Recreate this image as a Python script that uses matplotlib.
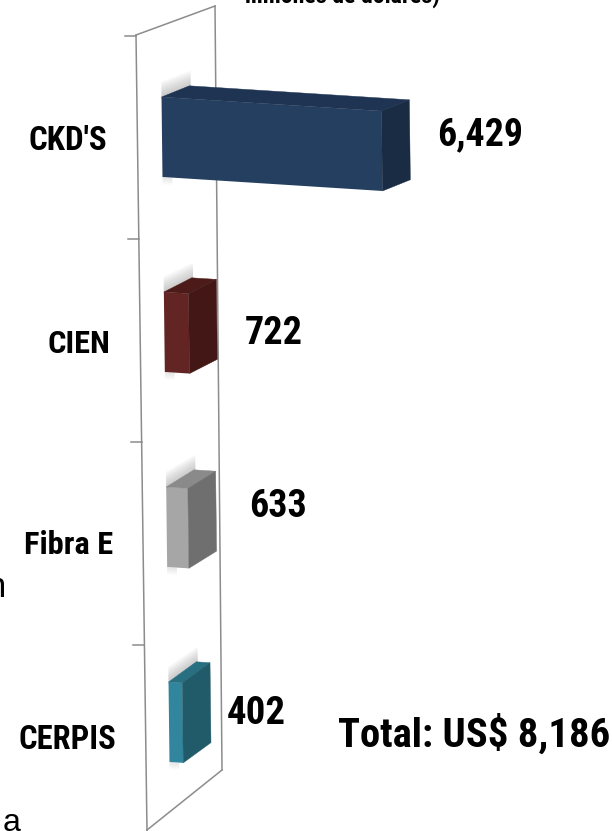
import os
import matplotlib
matplotlib.use('Agg')
import matplotlib.pyplot as plt
from matplotlib import font_manager as fm
from matplotlib.patches import Polygon
from matplotlib.transforms import Affine2D

# ---------------- data ----------------
categories = ["CKD'S", "CIEN", "Fibra E", "CERPIS"]
values = [6429, 722, 633, 402]
value_labels = ["6,429", "722", "633", "402"]
total_label = "Total: US$ 8,186"
subtitle_fragment = "millones de dólares)"

# ---------------- style ----------------
front_colors = ['#243F60', '#632523', '#A6A6A6', '#31859C']
top_colors = ['#1E3452', '#4C1B19', '#8A8A8A', '#286F82']
side_colors = ['#1A2B44', '#421715', '#6F6F6F', '#215A69']
WALL_COLOR = '#8C8C8C'
REGULAR = ['Liberation Sans', 'DejaVu Sans']


def _weight(f):
    w = f.weight
    if isinstance(w, str):
        w = fm.weight_dict.get(w, 400)
    return w


def find_narrow_bold():
    order = ['liberation', 'arial', 'roboto', 'noto sans', 'open sans', 'lato', 'inter', 'dejavu sans']
    found = []
    for f in fm.fontManager.ttflist:
        key = (f.name + ' ' + os.path.basename(f.fname)).lower()
        if 'mono' in key or 'serif' in key or 'italic' in key or 'oblique' in key:
            continue
        stretch = f.stretch if isinstance(f.stretch, int) else fm.stretch_dict.get(f.stretch, 500)
        narrow = ('narrow' in key) or ('condensed' in key and 'semicondensed' not in key.replace(' ', '').replace('-', '')) or stretch <= 300
        if not narrow or _weight(f) < 600 or f.style != 'normal':
            continue
        rank = len(order)
        for r, o in enumerate(order):
            if o in key:
                rank = r
                break
        found.append((rank, abs(_weight(f) - 700), f.fname))
    if found:
        found.sort()
        return found[0][2]
    return None


_narrow_path = find_narrow_bold()
if _narrow_path:
    def NFP(size):
        return fm.FontProperties(fname=_narrow_path, size=size)
else:
    def NFP(size):
        return fm.FontProperties(family=['Liberation Sans', 'DejaVu Sans'], weight='bold', size=size)

W, H = 612, 831
fig = plt.figure(figsize=(W / 100, H / 100), dpi=100)
fig.patch.set_facecolor('white')

# decoration axes in pixel units (y downwards)
axp = fig.add_axes([0, 0, 1, 1])
axp.set_xlim(0, W)
axp.set_ylim(H, 0)
axp.axis('off')

# front-plane axes for category labels / ticks
axf = fig.add_axes([0, 0, 1, 1])
axf.set_xlim(0, W)
axf.set_ylim(3.4138, -0.6798)
axf.axis('off')

# data axes for the bars
ax = fig.add_axes([0, 0, 1, 1])
ax.set_xlim(-4734, 13150)
ax.set_ylim(3.559, -0.7026)
ax.axis('off')

# perspective shear (display space)
x0, y0 = ax.transData.transform((0, 0))
sx = ax.transData.transform((1, 0))[0] - x0
sy = y0 - ax.transData.transform((0, 1))[1]
b = -14.0 / 220.0
c = -7.0 / 584.0
T = ax.transData + Affine2D.from_values(1, b, c, 1, -c * y0, -b * x0)

BAR_H = 0.41
DEPTH_PX = 28.0
ddx = DEPTH_PX / sx

bars = ax.barh(range(len(values)), values, height=BAR_H, left=0,
               color=front_colors, zorder=4)
for i, (rect, v) in enumerate(zip(bars, values)):
    rect.set_transform(T)
    top = i - BAR_H / 2
    bot = i + BAR_H / 2
    ddy = -(13 + 3 * i) / sy
    # soft shadow on the wall behind the upper-left of the box
    for k in range(1, 10):
        h = k * 1.7 / sy
        shadow = Polygon([(0, top + 2 / sy), (ddx * 1.05, top + ddy + 2 / sy),
                          (ddx * 1.05, top + ddy - h), (0, top - h)],
                         closed=True, facecolor='#8E8E8E', edgecolor='none',
                         alpha=0.06, zorder=2, transform=T)
        ax.add_patch(shadow)
    for k in range(1, 5):
        h = k * 1.8 / sy
        shadow = Polygon([(0, bot), (ddx * 0.35, bot),
                          (ddx * 0.35, bot + h), (0, bot + h)],
                         closed=True, facecolor='#8E8E8E', edgecolor='none',
                         alpha=0.05, zorder=2, transform=T)
        ax.add_patch(shadow)
    top_face = Polygon([(0, top), (v, top), (v + ddx, top + ddy), (ddx, top + ddy)],
                       closed=True, facecolor=top_colors[i], edgecolor=top_colors[i],
                       linewidth=0.3, zorder=4, transform=T)
    side_face = Polygon([(v, top), (v + ddx, top + ddy), (v + ddx, bot + ddy), (v, bot)],
                        closed=True, facecolor=side_colors[i], edgecolor=side_colors[i],
                        linewidth=0.3, zorder=4, transform=T)
    ax.add_patch(top_face)
    ax.add_patch(side_face)

fitted = []  # (text artist, base size, target width px, max growth)

# value labels (layout nudges in pixels)
LABEL_NUDGE = [(55, 6), (56, -10), (61, 11), (44, -1)]
VALUE_MAXW = [86, 58, 58, 59]
for i, (v, lab) in enumerate(zip(values, value_labels)):
    t = ax.annotate(lab, xy=(v, i), xycoords=T, xytext=LABEL_NUDGE[i],
                    textcoords='offset pixels', ha='left', va='baseline',
                    fontproperties=NFP(29), color='black', zorder=6)
    fitted.append((t, 29, VALUE_MAXW[i], 1.0))

# ---------------- wall ----------------
FRONT_TOP = (136, 35)
FRONT_BOT = (147, 831)
BACK_TOP = (215, 6)
BACK_BOT = (222, 770)


def front_x(ypx):
    return FRONT_TOP[0] + (FRONT_BOT[0] - FRONT_TOP[0]) * (ypx - FRONT_TOP[1]) / (FRONT_BOT[1] - FRONT_TOP[1])


lw = 1.1
axp.plot([FRONT_TOP[0], FRONT_BOT[0]], [FRONT_TOP[1], FRONT_BOT[1]], color=WALL_COLOR, lw=lw, zorder=1)
axp.plot([BACK_TOP[0], BACK_BOT[0]], [BACK_TOP[1], BACK_BOT[1]], color=WALL_COLOR, lw=lw, zorder=1)
axp.plot([FRONT_TOP[0], BACK_TOP[0]], [FRONT_TOP[1], BACK_TOP[1]], color=WALL_COLOR, lw=lw, zorder=1)
axp.plot([FRONT_BOT[0], BACK_BOT[0]], [830, BACK_BOT[1]], color=WALL_COLOR, lw=lw, zorder=1)

# category ticks and labels on the front plane
to_px = axf.transData + axp.transData.inverted()
for k in range(len(categories)):
    ypx = to_px.transform((0, k - 0.5))[1]
    fx = front_x(ypx)
    axp.plot([fx - 11, fx], [ypx, ypx], color=WALL_COLOR, lw=lw, zorder=1)
CAT_MAXW = [82, 63, 89, 98]
CAT_DY = [12, 12, 10, 2]
for i, cat in enumerate(categories):
    ypx = to_px.transform((0, i))[1]
    fx = front_x(ypx)
    t = axp.text(fx - 30, ypx + CAT_DY[i], cat, ha='right', va='baseline',
                 fontproperties=NFP(21.5), color='black')
    fitted.append((t, 21.5, CAT_MAXW[i], 1.1))

# total
t = axp.text(338, 747, total_label, ha='left', va='baseline',
             fontproperties=NFP(30), color='black')
fitted.append((t, 30, 272, 1.0))

# cut-off fragments of surrounding slide text
t = axp.text(245, 3, subtitle_fragment, ha='left', va='baseline',
             fontproperties=NFP(17), color='black')
fitted.append((t, 17, 195, 1.05))
axp.text(6, 597, 'n', ha='right', va='baseline', fontsize=25, family=REGULAR, color='black')
axp.text(3, 831, 'a', ha='left', va='baseline', fontsize=23, family=REGULAR, color='black')

# fit text widths to the reference's narrow face
renderer = fig.canvas.get_renderer()
for art, size, target, grow in fitted:
    wpx = art.get_window_extent(renderer).width
    art.set_fontsize(size * min(target / wpx, grow))

fig.savefig('out.png', dpi=100, facecolor='white')
